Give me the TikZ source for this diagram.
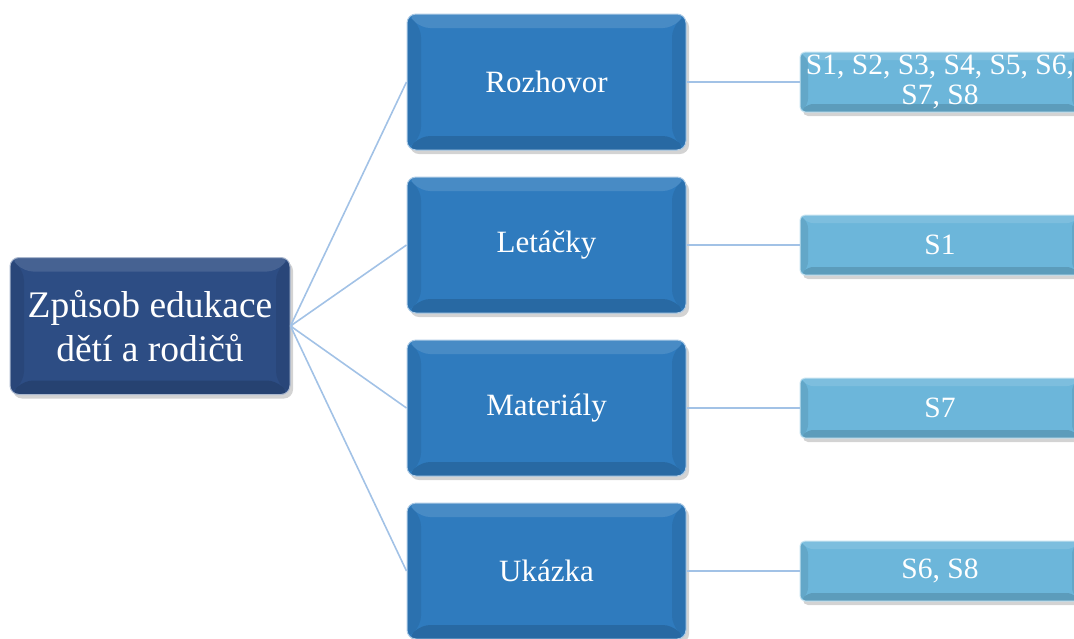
\documentclass[tikz,border=0pt]{standalone}
\usepackage{fontspec}
\setmainfont{Liberation Serif}
\usetikzlibrary{positioning, shadows}

\definecolor{rootblue}{HTML}{2D4D84}
\definecolor{midblue}{HTML}{2F7BBE}
\definecolor{leafblue}{HTML}{6CB6DA}
\definecolor{linkblue}{HTML}{A2C2E6}

\tikzset{
  bevel/.style={path picture={
    \coordinate (nw) at (path picture bounding box.north west);
    \coordinate (ne) at (path picture bounding box.north east);
    \coordinate (sw) at (path picture bounding box.south west);
    \coordinate (se) at (path picture bounding box.south east);
    \fill[white, opacity=.12] (nw) -- (ne) -- ([shift={(-#1,-#1)}]ne) -- ([shift={(#1,-#1)}]nw) -- cycle;
    \fill[black, opacity=.14] (sw) -- (se) -- ([shift={(-#1,#1)}]se) -- ([shift={(#1,#1)}]sw) -- cycle;
    \fill[black, opacity=.08] (nw) -- (sw) -- ([shift={(#1,#1)}]sw) -- ([shift={(#1,-#1)}]nw) -- cycle;
    \fill[black, opacity=.08] (ne) -- (se) -- ([shift={(-#1,#1)}]se) -- ([shift={(-#1,-#1)}]ne) -- cycle;
  }},
  box/.style={rounded corners=9pt, draw=white!60!#1, line width=1pt, fill=#1,
    text=white, align=center, inner sep=0pt,
    drop shadow={opacity=.35, shadow xshift=3pt, shadow yshift=-4pt}},
  rootbox/.style={box=rootblue, bevel=14pt, minimum width=280pt, minimum height=137pt,
    font=\fontsize{37.5}{44}\selectfont},
  midbox/.style={box=midblue, bevel=14pt, minimum width=279pt, minimum height=136pt,
    font=\fontsize{31}{36}\selectfont},
  leafbox/.style={box=leafblue, bevel=8pt, rounded corners=5pt, minimum width=280pt,
    minimum height=60pt, font=\fontsize{29.5}{29.5}\selectfont},
  link/.style={draw=linkblue, line width=1.6pt}
}

\begin{document}
\begin{tikzpicture}[x=1pt, y=-1pt, node distance=163pt, on grid]
    \useasboundingbox (0,0) rectangle (1074,638);

    \node[rootbox] (root) at (150,326) {Způsob edukace\\dětí a rodičů};

    \node[midbox] (rozhovor) at (546.5,82) {Rozhovor};
    \node[midbox] (letacky) [below=of rozhovor] {Letáčky};
    \node[midbox] (materialy) [below=of letacky] {Materiály};
    \node[midbox] (ukazka) [below=of materialy] {Ukázka};

    \node[leafbox] (s-rozhovor) [right=393.5pt of rozhovor] {S1, S2, S3, S4, S5, S6,\\S7, S8};
    \node[leafbox] (s-letacky) [right=393.5pt of letacky] {S1};
    \node[leafbox] (s-materialy) [right=393.5pt of materialy] {S7};
    \node[leafbox] (s-ukazka) [right=393.5pt of ukazka] {S6, S8};

    \foreach \m in {rozhovor, letacky, materialy, ukazka} {
        \draw[link] (root.east) -- (\m.west);
        \draw[link] (\m.east) -- (s-\m.west);
    }
\end{tikzpicture}
\end{document}
